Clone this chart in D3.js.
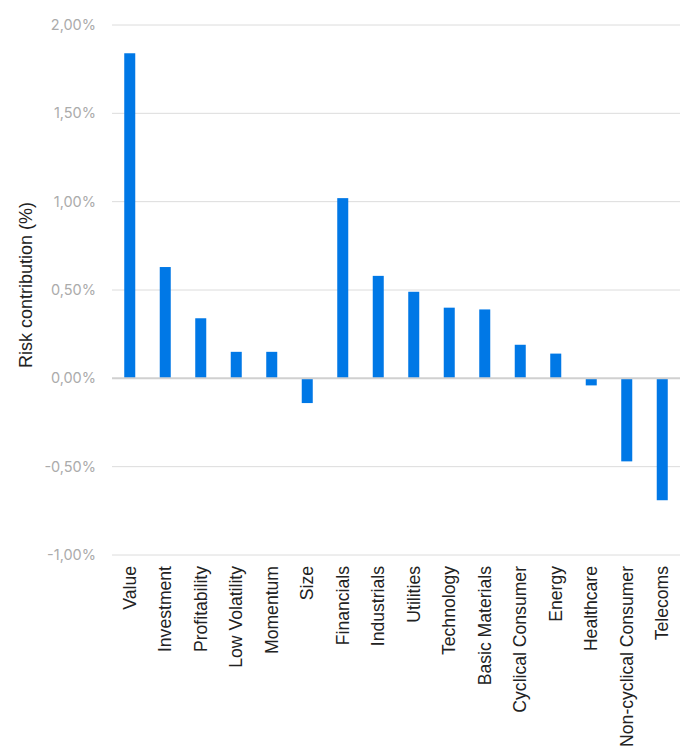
<!DOCTYPE html>
<html><head><meta charset="utf-8">
<script src="https://cdn.jsdelivr.net/npm/d3@7"></script>
<style>html,body{margin:0;padding:0;background:#fff;}svg{display:block;font-family:"Liberation Sans",Arial,sans-serif;}</style>
</head><body><svg id="c" width="697" height="756"></svg>
<script>
const categories = ["Value","Investment","Profitability","Low Volatility","Momentum","Size","Financials","Industrials","Utilities","Technology","Basic Materials","Cyclical Consumer","Energy","Healthcare","Non-cyclical Consumer","Telecoms"];
const values = [1.84,0.63,0.34,0.15,0.15,-0.14,1.02,0.58,0.49,0.40,0.39,0.19,0.14,-0.04,-0.47,-0.69];
const yTicks = [-1.0,-0.5,0,0.5,1.0,1.5,2.0];
const yTitle = "Risk contribution (%)";

const svg = d3.select("#c");
const m = {l:112, r:17, t:25, b:201};
const W = 697, H = 756;
const x = d3.scaleBand().domain(categories).range([m.l, W-m.r]).paddingInner(0.69).paddingOuter(0.345);
const y = d3.scaleLinear().domain([-1,2]).range([H-m.b, m.t]);
const fmt = v => d3.format(".2f")(v).replace(".", ",").replace("−", "-") + "%";

const g = svg.append("g");
g.selectAll("line.grid").data(yTicks.filter(d=>d!==0)).join("line")
  .attr("x1", m.l).attr("x2", W-m.r)
  .attr("y1", d=>y(d)).attr("y2", d=>y(d))
  .attr("stroke", "#dcdcdc").attr("stroke-width", 1);

g.selectAll("text.yt").data(yTicks).join("text")
  .attr("x", 96).attr("y", d=>y(d)).attr("dy","0.35em")
  .attr("text-anchor","end").attr("fill","#ababab").attr("font-size",14.5)
  .attr("font-family","Inter,'Noto Sans',sans-serif")
  .text(fmt);

g.selectAll("rect.bar").data(values).join("rect")
  .attr("x", (d,i)=>x(categories[i])).attr("width", x.bandwidth())
  .attr("y", d=>y(Math.max(0,d))).attr("height", d=>Math.abs(y(d)-y(0)))
  .attr("fill", "#0078e6");

g.append("line").attr("x1", m.l).attr("x2", W-m.r)
  .attr("y1", y(0)).attr("y2", y(0))
  .attr("stroke","#d0d0d0").attr("stroke-width",2);

g.selectAll("text.xl").data(categories).join("text")
  .attr("transform", d=>`translate(${x(d)+x.bandwidth()/2},${H-m.b+11}) rotate(-90)`)
  .attr("dy","0.35em").attr("text-anchor","end")
  .attr("fill","#222").attr("font-size",17.6).text(d=>d);

svg.append("text")
  .attr("transform", `translate(26,${(m.t + H-m.b)/2 - 5}) rotate(-90)`)
  .attr("dy","0.35em").attr("text-anchor","middle")
  .attr("fill","#222").attr("font-size",18).text(yTitle);
</script></body></html>
